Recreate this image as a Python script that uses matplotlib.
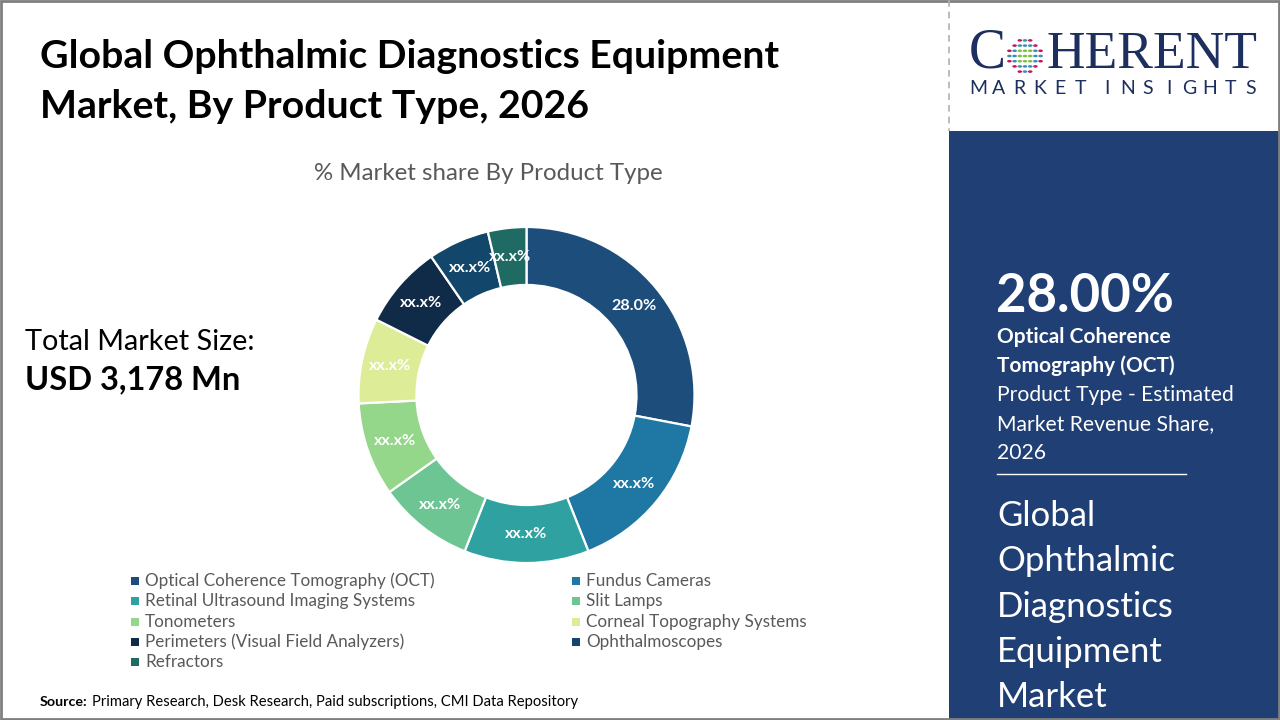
import matplotlib
matplotlib.use('Agg')
import matplotlib.pyplot as plt
from matplotlib.patches import Rectangle
from matplotlib.lines import Line2D
import numpy as np

plt.rcParams['font.family'] = ['Lato', 'DejaVu Sans']

# --- data -------------------------------------------------------------------
product_types = [
    'Optical Coherence Tomography (OCT)',
    'Fundus Cameras',
    'Retinal Ultrasound Imaging Systems',
    'Slit Lamps',
    'Tonometers',
    'Corneal Topography Systems',
    'Perimeters (Visual Field Analyzers)',
    'Ophthalmoscopes',
    'Refractors',
]
shares = [28.0, 16.0, 12.0, 9.2, 9.0, 8.2, 8.0, 5.9, 3.7]
slice_labels = ['28.0%', 'xx.x%', 'xx.x%', 'xx.x%', 'xx.x%', 'xx.x%', 'xx.x%', 'xx.x%', 'xx.x%']
colors = ['#1d4e7b', '#1f77a3', '#2fa1a1', '#6cc593', '#94d68a',
          '#dcec97', '#0f2b47', '#12466a', '#1f6b63']

W, H = 1280, 720
NAVY = '#203f74'
TEXT_GRAY = '#595959'


def fx(px):
    return px / W


def fy(py):
    return 1 - py / H


fig = plt.figure(figsize=(12.8, 7.2), dpi=100)
fig.patch.set_facecolor('white')
renderer = fig.canvas.get_renderer()

# --- donut ------------------------------------------------------------------
cx, cy, R = 526.5, 395, 168
ax = fig.add_axes([fx(cx - R), fy(cy + R), 2 * R / W, 2 * R / H])
lab_iter = iter(slice_labels)
wedges, _, autotexts = ax.pie(
    shares, colors=colors, startangle=90, counterclock=False,
    wedgeprops=dict(width=0.345, edgecolor='white', linewidth=1.6),
    autopct=lambda p: next(lab_iter), pctdistance=0.83,
    textprops=dict(color='white', fontsize=11.6, fontweight='bold'),
)
ax.set_xlim(-1, 1)
ax.set_ylim(-1, 1)
ax.set_aspect('equal')
ax.axis('off')

# --- titles -----------------------------------------------------------------
fig.text(fx(40), fy(57), 'Global Ophthalmic Diagnostics Equipment',
         fontsize=28.3, fontweight='bold', color='black', va='center', ha='left')
fig.text(fx(40), fy(107), 'Market, By Product Type, 2026',
         fontsize=28.3, fontweight='bold', color='black', va='center', ha='left')
fig.text(fx(488), fy(174), '% Market share By Product Type',
         fontsize=17.3, color=TEXT_GRAY, va='center', ha='center')

fig.text(fx(25), fy(342), 'Total Market Size:', fontsize=20.8, color='black',
         va='center', ha='left')
fig.text(fx(25), fy(380), 'USD 3,178 Mn', fontsize=23.5, fontweight='bold',
         color='black', va='center', ha='left')

# --- legend (two columns, row-major) ----------------------------------------
col_x = [131, 572]
row_y0, row_dy = 581, 20.3
for i, (name, c) in enumerate(zip(product_types, colors)):
    col, row = i % 2, i // 2
    x0, y0 = col_x[col], row_y0 + row * row_dy
    fig.add_artist(Rectangle((fx(x0), fy(y0 + 4)), 8 / W, 8 / H,
                             transform=fig.transFigure, color=c, lw=0))
    fig.text(fx(x0 + 14), fy(y0), name, fontsize=12.3, color=TEXT_GRAY,
             va='center', ha='left')

src = fig.text(fx(40), fy(702), 'Source:', fontsize=10.3, fontweight='bold',
               color='black', va='center', ha='left')
src_end = src.get_window_extent(renderer).x1
fig.text(src_end / W + fx(4), fy(702),
         'Primary Research, Desk Research, Paid subscriptions, CMI Data Repository',
         fontsize=10.6, color='black', va='center', ha='left')

# --- right panel ------------------------------------------------------------
fig.add_artist(Rectangle((fx(949), 0), (W - 949) / W, fy(131),
                         transform=fig.transFigure, color=NAVY, lw=0))
fig.add_artist(Line2D([fx(949), fx(949)], [fy(0), fy(131)], transform=fig.transFigure,
                      color='#b0b0b0', lw=1.2, ls=(0, (4, 3))))

# logo
LOGO = '#1d2f5e'
fig.text(fx(969), fy(54), 'C', family=['Liberation Serif'], fontsize=40,
         color=LOGO, va='center', ha='left')
fig.text(fx(1047), fy(55), 'HERENT', family=['Liberation Serif'], fontsize=38.5,
         color=LOGO, va='center', ha='left')
pitch, pos = 20.5, 978.0
for word_i, word in enumerate(['MARKET', 'INSIGHTS']):
    if word_i:
        pos += 0.3 * pitch
    for ch in word:
        fig.text(fx(pos), fy(89), ch, fontsize=14, color=LOGO,
                 va='center', ha='center')
        pos += pitch
# dotted globe replacing the O
gcx, gcy = 1025, 56
for gx in range(-3, 4):
    for gy in range(-3, 4):
        d = np.hypot(gx, gy)
        if d > 3.3:
            continue
        if d < 1.5:
            col = '#7cc242'
        elif (gx + gy) % 2 == 0 and d > 2.5:
            col = '#c2185b'
        else:
            col = '#3a8fb7'
        fig.add_artist(plt.Circle((fx(gcx + gx * 5.2), fy(gcy + gy * 5.2)), 2.3 / W,
                                  transform=fig.transFigure, color=col, lw=0))

WHITE = 'white'
fig.text(fx(996), fy(296), '28.00%', fontsize=38, fontweight='bold', color=WHITE,
         va='center', ha='left')
for txt, y in [('Optical Coherence', 337), ('Tomography (OCT)', 366)]:
    fig.text(fx(997), fy(y), txt, fontsize=15, fontweight='bold', color=WHITE,
             va='center', ha='left')
for txt, y in [('Product Type - Estimated', 395), ('Market Revenue Share,', 424), ('2026', 453)]:
    fig.text(fx(997), fy(y), txt, fontsize=15.2, color=WHITE, va='center', ha='left')
fig.add_artist(Line2D([fx(997), fx(1186)], [fy(474), fy(474)], transform=fig.transFigure,
                      color=WHITE, lw=1))
for txt, y in [('Global', 516), ('Ophthalmic', 561), ('Diagnostics', 607),
               ('Equipment', 652), ('Market', 697)]:
    fig.text(fx(997), fy(y), txt, fontsize=25, color=WHITE, va='center', ha='left')

# frame
fig.add_artist(Rectangle((0.001, 0.001), 0.998, 0.997, transform=fig.transFigure,
                         fill=False, edgecolor='#7f7f7f', lw=2))

fig.savefig('out.png', dpi=100)
